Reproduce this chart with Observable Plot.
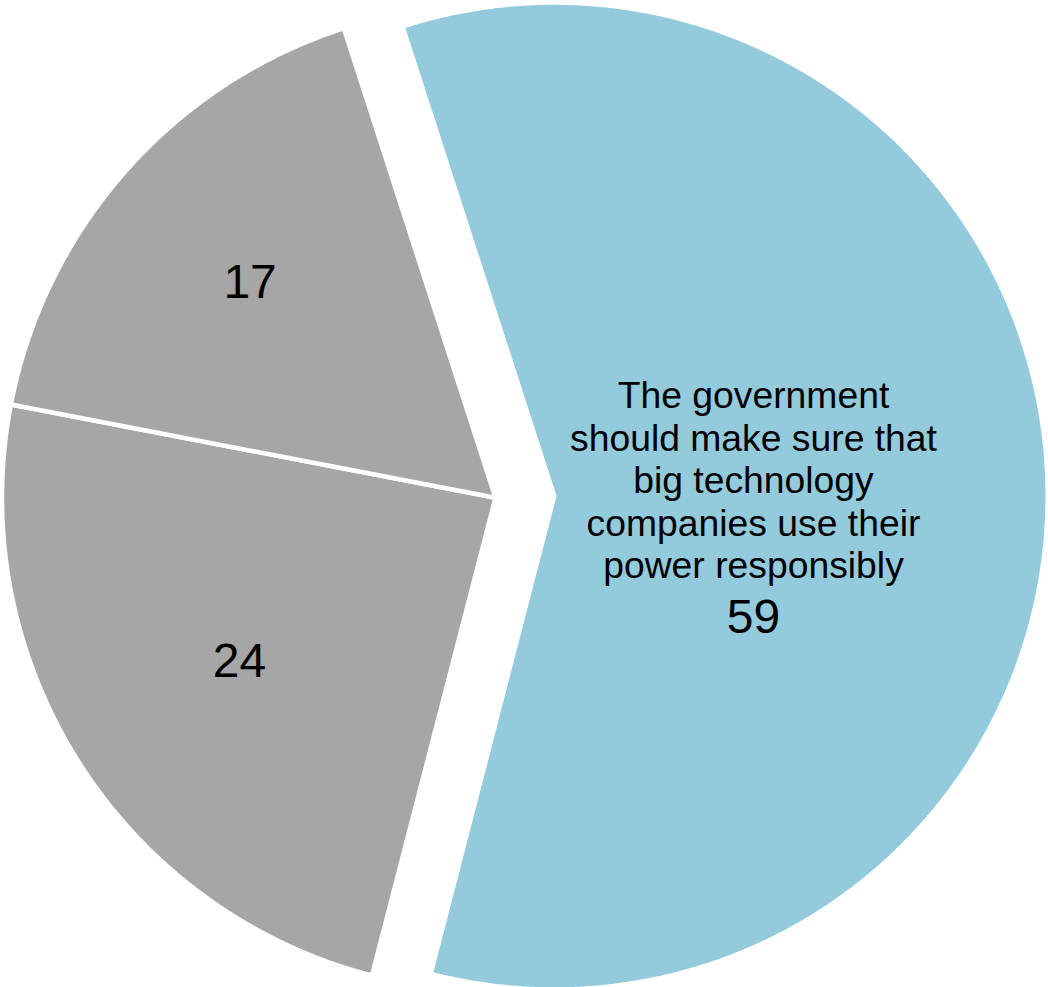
<!DOCTYPE html>
<html><head><meta charset="utf-8">
<script src="https://cdn.jsdelivr.net/npm/d3@7"></script>
<script src="https://cdn.jsdelivr.net/npm/@observablehq/plot@0.6"></script>
<style>body{margin:0;background:#fff;} #chart svg{display:block;}</style>
</head><body><div id="chart"></div>
<script>
// ---- data ----
const categories = [
  "The government\nshould make sure that\nbig technology\ncompanies use their\npower responsibly",
  "",
  ""
];
const values = [59, 24, 17];
const colors = ["#93cbdc", "#a6a6a6", "#a6a6a6"];
const showName = [true, false, false];
const explode = [0.119, 0, 0];
const labelRadius = [0.404, 0.614, 0.664];

// ---- layout ----
const W = 1048, H = 987, cx = 495, cy = 497.3, R = 493.5;
const startAngle = -17.9 * Math.PI / 180;
const pie = d3.pie().sort(null).startAngle(startAngle).endAngle(startAngle + 2 * Math.PI);
const arcs = pie(values);

const slices = arcs.map((a, i) => {
  const mid = (a.startAngle + a.endAngle) / 2;
  const ox = explode[i] * Math.sin(mid), oy = explode[i] * Math.cos(mid);
  const pts = [{x: ox, y: oy, i}];
  const n = Math.ceil((a.endAngle - a.startAngle) / (Math.PI / 720));
  for (let k = 0; k <= n; k++) {
    const t = a.startAngle + (a.endAngle - a.startAngle) * k / n;
    pts.push({x: ox + Math.sin(t), y: oy + Math.cos(t), i});
  }
  const lr = labelRadius[i];
  return {
    pts,
    label: {x: ox + lr * Math.sin(mid), y: oy + lr * Math.cos(mid), name: categories[i], value: values[i], show: showName[i]}
  };
});

const font = "Liberation Sans, Arial, Helvetica, sans-serif";
const marks = slices.map((s, i) => Plot.line(s.pts, {
  x: "x", y: "y", curve: "linear-closed",
  fill: colors[i], stroke: "white", strokeWidth: 4.5, strokeLinejoin: "miter", strokeMiterlimit: 20
}));
const labels = slices.map(s => s.label);
marks.push(
  Plot.text(labels.filter(d => d.show), {
    x: "x", y: "y", text: "name", fontSize: 37.3, lineHeight: 1.14,
    lineAnchor: "bottom", dy: 88.2, fill: "black", fontFamily: font
  }),
  Plot.text(labels.filter(d => d.show), {
    x: "x", y: "y", text: d => String(d.value), fontSize: 48,
    lineAnchor: "bottom", dy: 142.6, fill: "black", fontFamily: font
  }),
  Plot.text(labels.filter(d => !d.show), {
    x: "x", y: "y", text: d => String(d.value), fontSize: 48,
    lineAnchor: "middle", dy: 1.8, fill: "black", fontFamily: font
  })
);

const chart = Plot.plot({
  width: W, height: H, margin: 0,
  x: {domain: [-cx / R, (W - cx) / R], axis: null},
  y: {domain: [-(H - cy) / R, cy / R], axis: null},
  style: {background: "white", fontFamily: font},
  marks
});
document.getElementById("chart").append(chart);
</script>
</body></html>
